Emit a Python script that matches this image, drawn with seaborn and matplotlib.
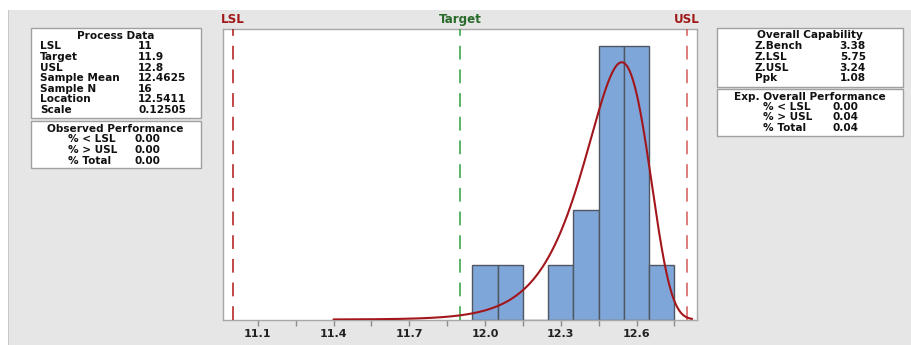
import numpy as np
import pandas as pd
import matplotlib
matplotlib.use("Agg")
import matplotlib.pyplot as plt
from matplotlib.patches import Rectangle
import seaborn as sns

# Process data
lsl = 11.0
target = 11.9
usl = 12.8
sample_mean = 12.4625
sample_n = 16
location = 12.5411
scale = 0.12505

# Histogram: bin midpoints and frequencies
bin_mids = [12.0, 12.1, 12.2, 12.3, 12.4, 12.5, 12.6, 12.7]
bin_counts = [1, 1, 0, 1, 2, 5, 5, 1]
bin_width = 0.1

# Summary tables
process_labels = ["LSL", "Target", "USL", "Sample Mean", "Sample N", "Location", "Scale"]
process_values = ["11", "11.9", "12.8", "12.4625", "16", "12.5411", "0.12505"]
observed_labels = ["% < LSL", "% > USL", "% Total"]
observed_values = ["0.00", "0.00", "0.00"]
capability_labels = ["Z.Bench", "Z.LSL", "Z.USL", "Ppk"]
capability_values = ["3.38", "5.75", "3.24", "1.08"]
expected_labels = ["% < LSL", "% > USL", "% Total"]
expected_values = ["0.00", "0.04", "0.04"]

major_ticks = [11.1, 11.4, 11.7, 12.0, 12.3, 12.6]

sns.set_theme(style="white")
plt.rcParams["font.family"] = ["DejaVu Sans"]

W, H = 912, 345
fig = plt.figure(figsize=(W / 100, H / 100), dpi=100, facecolor="white")

# grey panel behind everything
fig.patches.append(Rectangle((8 / W, 0), 1 - 8 / W, 1 - 10 / H, transform=fig.transFigure,
                             facecolor="#e6e6e6", edgecolor="none", zorder=-10))
fig.patches.append(Rectangle((8 / W, 0), 1.5 / W, 1 - 10 / H, transform=fig.transFigure,
                             facecolor="#c8c8c8", edgecolor="none", zorder=-9))

ax = fig.add_axes([222.7 / W, 1 - 319.5 / H, (696.7 - 222.7) / W, (319.5 - 29.3) / H])
ax.set_facecolor("white")

obs = pd.DataFrame({"value": np.repeat(bin_mids, bin_counts)})
edges = np.round(np.arange(len(bin_mids) + 1) * bin_width + bin_mids[0] - bin_width / 2, 4)
sns.histplot(data=obs, x="value", bins=edges, stat="count", color="#7ea6d8",
             edgecolor="#4f5661", linewidth=1.0, alpha=1.0, ax=ax, zorder=2)

# fitted smallest extreme value curve, scaled to frequency
xs = np.linspace(11.4, 12.82, 600)
z = (xs - location) / scale
pdf = np.exp(z - np.exp(z)) / scale
curve = pd.DataFrame({"x": xs, "y": pdf * sample_n * bin_width})
sns.lineplot(data=curve, x="x", y="y", color="#a3161c", linewidth=1.5, ax=ax, zorder=4)

dash = (0, (9, 6.5))
ax.axvline(lsl, color="#b01515", linewidth=1.1, linestyle=dash, zorder=3)
ax.axvline(usl, color="#d65a5a", linewidth=1.1, linestyle=dash, zorder=3)
ax.axvline(target, color="#2e9e3e", linewidth=1.1, linestyle=dash, zorder=3)

ax.set_xlim(10.961, 12.838)
ax.set_ylim(0, 5.31)
ax.set_xticks(major_ticks)
ax.set_xticks([t + 0.15 for t in major_ticks], minor=True)
ax.set_xticklabels([f"{t:.1f}" for t in major_ticks], fontsize=8, fontweight="bold", color="#222222")
ax.set_yticks([])
ax.tick_params(axis="x", which="both", direction="out", length=4, width=1, color="#8c8c8c",
               bottom=True, pad=3)
ax.set_xlabel("")
ax.set_ylabel("")
for s in ax.spines.values():
    s.set_color("#a8a8a8")
    s.set_linewidth(1.0)

# spec labels above the plot
for val, lab, col in [(lsl, "LSL", "#a01818"), (target, "Target", "#2a6a2a"), (usl, "USL", "#a01818")]:
    ax.text(val, 1.01, lab, transform=ax.get_xaxis_transform(), ha="center", va="bottom",
            fontsize=8.6, fontweight="bold", color=col)


def fx(px):
    return px / W


def fy(py):
    return 1 - py / H


def box(x0, y0, x1, y1):
    fig.patches.append(Rectangle((fx(x0), fy(y1)), fx(x1) - fx(x0), fy(y0) - fy(y1),
                                 transform=fig.transFigure, facecolor="white",
                                 edgecolor="#a0a0a0", linewidth=1.0, zorder=1))


fs = 7.6
txt = dict(fontsize=fs, color="#111111", va="center", fontweight="bold")

# Process Data
box(30.7, 28.3, 200.7, 118.3)
fig.text(fx(115.7), fy(35.7), "Process Data", ha="center", **txt)
rows_y = [45.7, 56.7, 67.7, 78.3, 89.0, 99.0, 110.0]
for lab, val, y in zip(process_labels, process_values, rows_y):
    fig.text(fx(40), fy(y), lab, ha="left", **txt)
    fig.text(fx(138.3), fy(y), val, ha="left", **txt)

# Observed Performance
box(30.7, 120.7, 200.7, 168.3)
fig.text(fx(115.7), fy(129), "Observed Performance", ha="center", **txt)
for lab, val, y in zip(observed_labels, observed_values, [139.3, 150.0, 160.7]):
    fig.text(fx(68.3), fy(y), lab, ha="left", **txt)
    fig.text(fx(135), fy(y), val, ha="left", **txt)

# Overall Capability
box(717.3, 28.3, 903.3, 86.7)
fig.text(fx(810.3), fy(35.3), "Overall Capability", ha="center", **txt)
for lab, val, y in zip(capability_labels, capability_values, [46.0, 56.7, 68.3, 78.3]):
    fig.text(fx(755), fy(y), lab, ha="left", **txt)
    fig.text(fx(866), fy(y), val, ha="right", **txt)

# Expected Overall Performance
box(717.3, 89.3, 903.3, 136.0)
fig.text(fx(810.3), fy(96.7), "Exp. Overall Performance", ha="center", **txt)
for lab, val, y in zip(expected_labels, expected_values, [107.3, 117.3, 127.7]):
    fig.text(fx(763.3), fy(y), lab, ha="left", **txt)
    fig.text(fx(832.7), fy(y), val, ha="left", **txt)

fig.savefig("out.png", dpi=100, facecolor=fig.get_facecolor())
